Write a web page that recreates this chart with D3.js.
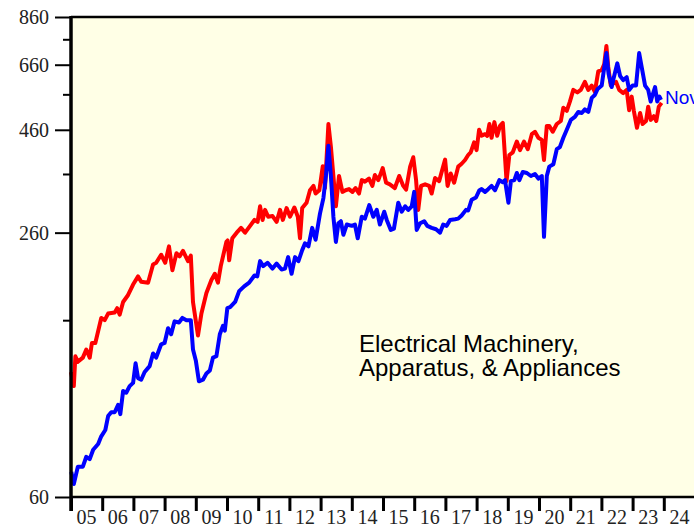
<!DOCTYPE html>
<html>
<head>
<meta charset="utf-8">
<script src="https://cdn.jsdelivr.net/npm/d3@7"></script>
<style>
  body { margin: 0; background: #fff; }
  svg { display: block; }
</style>
</head>
<body>
<div id="chart"></div>
<script>
// monthly readings, x = decimal year
const redYears = [2005.00,2005.09,2005.14,2005.22,2005.38,2005.49,2005.60,2005.67,2005.78,2005.97,
  2006.08,2006.19,2006.40,2006.48,2006.56,2006.67,2006.83,2006.99,2007.15,2007.25,2007.47,2007.63,2007.73,2007.89,
  2008.02,2008.14,2008.25,2008.38,2008.48,2008.59,2008.75,2008.84,2008.91,2009.07,2009.18,2009.34,2009.50,2009.61,2009.71,2009.80,2009.98,
  2010.02,2010.07,2010.17,2010.31,2010.45,2010.58,2010.74,2010.88,2010.98,
  2011.06,2011.14,2011.22,2011.32,2011.46,2011.59,2011.70,2011.79,2011.91,
  2012.02,2012.16,2012.27,2012.34,2012.41,2012.55,2012.66,2012.77,2012.84,2012.96,
  2013.07,2013.14,2013.25,2013.33,2013.41,2013.49,2013.59,2013.70,2013.80,2013.91,
  2014.02,2014.12,2014.23,2014.32,2014.42,2014.55,2014.66,2014.74,2014.85,2014.99,
  2015.10,2015.22,2015.38,2015.52,2015.65,2015.74,2015.87,2015.97,
  2016.06,2016.13,2016.22,2016.35,2016.48,2016.56,2016.67,2016.80,2016.99,
  2017.07,2017.17,2017.28,2017.41,2017.52,2017.63,2017.73,2017.81,2017.92,
  2018.00,2018.08,2018.16,2018.27,2018.34,2018.41,2018.48,2018.57,2018.66,2018.75,2018.84,2018.96,
  2019.05,2019.16,2019.29,2019.39,2019.52,2019.64,2019.77,2019.87,2019.98,
  2020.09,2020.16,2020.25,2020.33,2020.44,2020.57,2020.70,2020.78,2020.89,2020.99,
  2021.10,2021.23,2021.34,2021.47,2021.58,2021.69,2021.79,2021.90,
  2022.01,2022.09,2022.16,2022.22,2022.30,2022.36,2022.47,2022.57,2022.70,2022.81,2022.89,2022.97,
  2023.04,2023.14,2023.24,2023.32,2023.43,2023.50,2023.58,2023.68,2023.76,2023.84,2023.93];
const redValues = [120,111,131,127,130,136,130,141,141,162,
  160,166,167,171,165,177,184,195,204,198,197,218,220,230,
  220,241,211,232,228,235,222,229,177,147,166,186,200,207,197,216,247,
  249,223,252,260,267,260,270,279,276,
  301,279,295,284,285,276,295,279,298,
  284,299,284,252,298,307,329,337,323,329,
  376,333,475,419,356,301,356,326,329,331,
  326,333,323,348,345,351,337,358,348,372,
  343,340,333,356,337,330,375,395,
  348,295,337,340,337,323,352,346,390,
  337,361,343,375,381,389,400,406,429,
  411,460,445,449,445,475,440,480,445,470,478,346,
  400,406,431,411,431,413,449,455,440,
  435,389,470,470,455,475,483,520,511,538,
  574,566,574,600,574,588,568,636,
  641,662,732,652,588,594,600,574,564,574,513,553,
  511,465,505,475,483,523,486,496,483,523,534];

const blueYears = [2005.01,2005.09,2005.22,2005.38,2005.49,2005.60,2005.71,2005.87,2005.97,
  2006.10,2006.19,2006.29,2006.40,2006.51,2006.58,2006.67,2006.77,2006.88,2006.99,
  2007.07,2007.15,2007.25,2007.36,2007.52,2007.63,2007.73,2007.89,
  2008.00,2008.11,2008.21,2008.32,2008.46,2008.57,2008.70,2008.84,2008.91,
  2009.00,2009.10,2009.23,2009.34,2009.45,2009.55,2009.66,2009.77,2009.87,2009.93,
  2010.01,2010.10,2010.26,2010.39,2010.55,2010.71,2010.88,2010.97,
  2011.06,2011.16,2011.30,2011.46,2011.59,2011.75,2011.86,2011.96,
  2012.07,2012.18,2012.29,2012.41,2012.50,2012.61,2012.73,2012.84,2012.98,
  2013.09,2013.17,2013.25,2013.33,2013.41,2013.49,2013.57,2013.65,2013.73,2013.84,
  2014.00,2014.10,2014.19,2014.32,2014.42,2014.56,2014.69,2014.80,2014.90,
  2015.04,2015.12,2015.25,2015.35,2015.49,2015.60,2015.71,2015.81,2015.92,
  2016.00,2016.08,2016.19,2016.32,2016.42,2016.56,2016.70,2016.83,2016.93,
  2017.04,2017.15,2017.31,2017.41,2017.52,2017.66,2017.73,2017.84,2017.98,
  2018.09,2018.16,2018.27,2018.37,2018.48,2018.59,2018.73,2018.84,2018.91,
  2019.02,2019.10,2019.21,2019.29,2019.37,2019.48,2019.61,2019.74,2019.87,2019.98,
  2020.09,2020.16,2020.25,2020.33,2020.46,2020.57,2020.67,2020.78,2020.89,
  2021.02,2021.15,2021.26,2021.37,2021.47,2021.58,2021.69,2021.79,2021.88,
  2022.01,2022.08,2022.16,2022.23,2022.33,2022.40,2022.51,2022.60,2022.70,2022.81,2022.89,
  2023.00,2023.11,2023.21,2023.29,2023.40,2023.50,2023.58,2023.64,2023.72,2023.79,2023.86,2023.91];
const blueValues = [69,64.5,71,71,75,74,78,80.5,84,
  87,94,96,96,100,95,108,107,111,113,
  126,116,115,120,124,133,130,140,
  141,153,148,159,158,162,160,160,136,
  128,114,115,119,121,130,131,148,155,151,
  171,172,177,188,193,197,205,204,
  222,216,220,213,219,212,213,227,
  207,227,222,236,245,241,267,250,289,
  315,356,421,356,284,247,274,277,257,272,
  270,272,252,284,281,303,284,295,272,
  292,279,264,266,307,292,301,295,301,
  326,264,274,277,270,267,265,260,272,
  270,279,280,281,286,295,294,312,316,
  329,331,326,331,337,329,348,344,348,
  307,346,348,362,348,364,362,356,360,351,
  356,254,356,375,380,413,418,440,460,
  486,494,508,505,515,508,549,558,577,
  588,641,704,628,583,616,665,620,606,616,574,
  588,588,704,652,588,574,538,558,583,538,553,543];

const yMajor = [60, 260, 460, 660, 860];
const yMinor = [160, 360, 560, 760];
const yearTicks = d3.range(2005, 2025);
const yearLabels = yearTicks.map(y => String(y).slice(2));
const noteLines = ["Electrical Machinery,", "Apparatus, & Appliances"];
const lastLabel = "Nov";

const width = 694, height = 527,
    plotLeft = 71, plotTop = 17, plotBottom = 497, plotRight = 695;

const svg = d3.select('#chart').append('svg')
    .attr('width', width)
    .attr('height', height);

const x = d3.scaleLinear().domain([2005, 2025]).range([plotLeft, plotRight]);
const y = d3.scaleLog().domain([60, 860]).range([plotBottom, plotTop]);

svg.append('rect')
    .attr('x', plotLeft).attr('y', plotTop)
    .attr('width', plotRight - plotLeft).attr('height', plotBottom - plotTop)
    .attr('fill', '#ffffe6');

const line = d3.line()
    .x(d => x(d[0]))
    .y(d => y(d[1]));

svg.append('path')
    .datum(d3.zip(redYears, redValues))
    .attr('fill', 'none')
    .attr('stroke', '#ff0000')
    .attr('stroke-width', 4)
    .attr('stroke-linejoin', 'round')
    .attr('d', line);

svg.append('path')
    .datum(d3.zip(blueYears, blueValues))
    .attr('fill', 'none')
    .attr('stroke', '#0000ff')
    .attr('stroke-width', 4)
    .attr('stroke-linejoin', 'round')
    .attr('d', line);

// frame: top and bottom border
svg.append('line')
    .attr('x1', plotLeft).attr('x2', width)
    .attr('y1', plotTop).attr('y2', plotTop)
    .attr('stroke', '#000').attr('stroke-width', 2.5);
svg.append('line')
    .attr('x1', plotLeft).attr('x2', width)
    .attr('y1', plotBottom).attr('y2', plotBottom)
    .attr('stroke', '#000').attr('stroke-width', 2.5);

// y axis
const yAxis = svg.append('g')
    .attr('transform', `translate(${plotLeft},0)`)
    .call(d3.axisLeft(y).tickValues(yMajor).tickSize(16).tickPadding(6).tickFormat(d3.format('d')));
yAxis.select('.domain').remove();
yAxis.selectAll('line').attr('stroke-width', 2);
yAxis.selectAll('text')
    .attr('font-family', '"Liberation Serif", "Times New Roman", serif')
    .attr('font-size', 20)
    .attr('fill', '#222');

const yAxisMinor = svg.append('g')
    .attr('transform', `translate(${plotLeft},0)`)
    .call(d3.axisLeft(y).tickValues(yMinor).tickSize(8).tickFormat(''));
yAxisMinor.select('.domain').remove();
yAxisMinor.selectAll('line').attr('stroke-width', 2);

svg.append('line')
    .attr('x1', plotLeft).attr('x2', plotLeft)
    .attr('y1', plotTop - 1).attr('y2', plotBottom + 14)
    .attr('stroke', '#000').attr('stroke-width', 3.5);

// x axis
const xAxis = svg.append('g')
    .attr('transform', `translate(0,${plotBottom})`)
    .call(d3.axisBottom(x).tickValues(yearTicks).tickSize(14).tickFormat(''));
xAxis.select('.domain').remove();
xAxis.selectAll('line').attr('stroke-width', 3);

svg.append('g').selectAll('text')
    .data(yearTicks)
    .join('text')
        .attr('x', d => x(d + 0.5))
        .attr('y', 524)
        .attr('text-anchor', 'middle')
        .attr('font-family', '"Liberation Serif", "Times New Roman", serif')
        .attr('font-size', 20)
        .attr('fill', '#222')
        .text((d, i) => yearLabels[i]);

// series note
svg.append('text')
    .attr('x', 359)
    .attr('y', 352)
    .attr('font-family', '"Liberation Sans", Arial, sans-serif')
    .attr('font-size', 24)
    .attr('fill', '#000')
    .selectAll('tspan')
    .data(noteLines)
    .join('tspan')
        .attr('x', 359)
        .attr('dy', (d, i) => i ? 24 : 0)
        .text(d => d);

// last-month label, clipped by the right edge like the original
svg.append('text')
    .attr('x', x(blueYears[blueYears.length - 1]) + 4)
    .attr('y', y(blueValues[blueValues.length - 1]) + 4)
    .attr('font-family', '"Liberation Sans", Arial, sans-serif')
    .attr('font-size', 19)
    .attr('fill', '#0000ff')
    .text(lastLabel);
</script>
</body>
</html>
